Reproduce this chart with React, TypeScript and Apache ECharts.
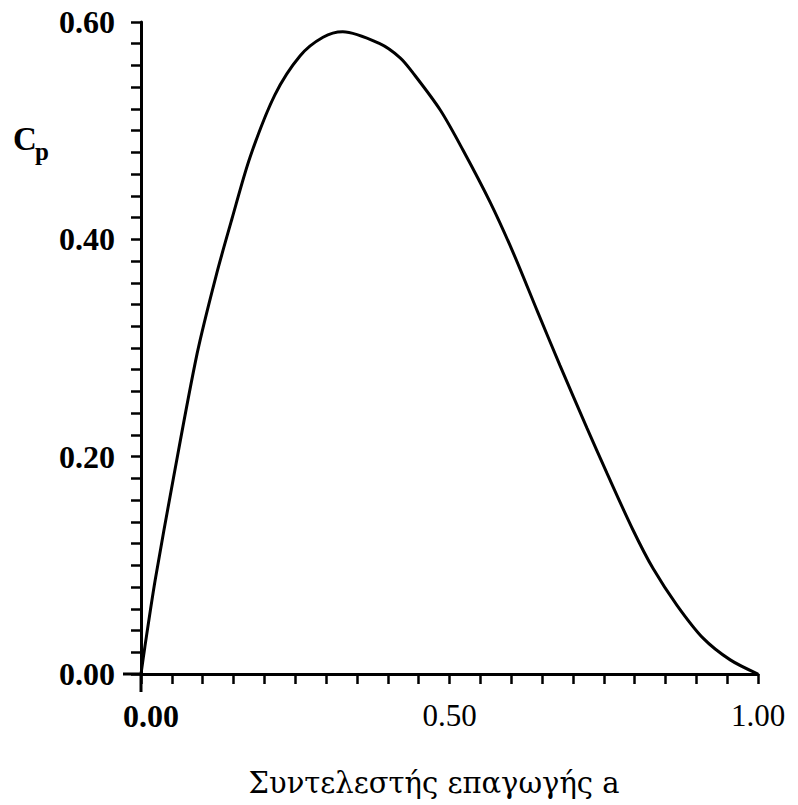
import React, { useEffect, useRef } from "react";
import * as echarts from "echarts";

// Induction factor a (x) and power coefficient Cp (y)
const aValues = [0, 0.006, 0.023, 0.052, 0.091, 0.1215, 0.147, 0.177, 0.217, 0.258, 0.295, 0.327, 0.387, 0.42, 0.441, 0.485, 0.522, 0.566, 0.603, 0.643, 0.679, 0.723, 0.755, 0.797, 0.83, 0.869, 0.911, 0.955, 1.0];
const cpValues = [0, 0.024, 0.0865, 0.1785, 0.295, 0.366, 0.418, 0.476, 0.533, 0.569, 0.586, 0.591, 0.58, 0.567, 0.553, 0.519, 0.482, 0.434, 0.388, 0.333, 0.284, 0.226, 0.185, 0.133, 0.097, 0.063, 0.033, 0.013, 0];

const xTickLabels = ["0.00", "0.50", "1.00"];
const yTickLabels = ["0.00", "0.20", "0.40", "0.60"];
const xTitle = "Συντελεστής επαγωγής a";
const yTitleMain = "C";
const yTitleSub = "p";

const FONT = "Liberation Serif";
const TITLE_FONT = "DejaVu Serif";

export default function App() {
  const ref = useRef<HTMLDivElement>(null);
  useEffect(() => {
    if (!ref.current) return;
    const chart = echarts.init(ref.current, null, { renderer: "svg" });
    const data = aValues.map((a, i) => [a, cpValues[i]]);
    chart.setOption({
      animation: false,
      backgroundColor: "#fff",
      grid: { left: 141, right: 40, top: 22, bottom: 131 },
      xAxis: {
        type: "value",
        min: 0,
        max: 1,
        interval: 0.5,
        axisLine: { show: true, lineStyle: { color: "#000", width: 3 } },
        axisTick: { show: true, length: 10, lineStyle: { color: "#000", width: 2.5 } },
        minorTick: { show: true, splitNumber: 10, length: 10, lineStyle: { color: "#000", width: 2.5 } },
        splitLine: { show: false },
        axisLabel: {
          margin: 26,
          color: "#000",
          fontFamily: FONT,
          fontSize: 31,
          formatter: (v: number) => {
            const idx = Math.round(v / 0.5);
            const t = xTickLabels[idx] ?? "";
            return idx === 0 ? "{b|" + t + "}" : "{n|" + t + "}";
          },
          rich: {
            b: { fontFamily: FONT, fontSize: 32, fontWeight: "bold", color: "#000", padding: [0, 0, 0, 20] },
            n: { fontFamily: FONT, fontSize: 31, fontWeight: "normal", color: "#000" },
          },
        },
      },
      yAxis: {
        type: "value",
        min: 0,
        max: 0.6,
        interval: 0.2,
        axisLine: { show: true, lineStyle: { color: "#000", width: 3 } },
        axisTick: { show: true, length: 10, lineStyle: { color: "#000", width: 2.5 } },
        minorTick: { show: true, splitNumber: 10, length: 10, lineStyle: { color: "#000", width: 2.5 } },
        splitLine: { show: false },
        axisLabel: {
          margin: 26,
          color: "#000",
          fontFamily: FONT,
          fontSize: 32,
          fontWeight: "bold",
          formatter: (v: number) => yTickLabels[Math.round(v / 0.2)] ?? "",
        },
      },
      series: [
        {
          type: "line",
          data,
          smooth: 0.3,
          showSymbol: false,
          lineStyle: { color: "#000", width: 3 },
        },
      ],
    });
    const p0 = chart.convertToPixel({ gridIndex: 0 }, [0, 0]) as number[];
    chart.setOption({
      graphic: [
        { type: "line", shape: { x1: p0[0], y1: p0[1], x2: p0[0], y2: p0[1] + 18 }, style: { stroke: "#000", lineWidth: 3 } },
        { type: "line", shape: { x1: p0[0], y1: p0[1], x2: p0[0] - 18, y2: p0[1] }, style: { stroke: "#000", lineWidth: 3 } },
        { type: "text", left: 13, top: 122, style: { text: yTitleMain, fontFamily: FONT, fontSize: 33, fontWeight: "bold", fill: "#000" } },
        { type: "text", left: 35, top: 139, style: { text: yTitleSub, fontFamily: FONT, fontSize: 25, fontWeight: "bold", fill: "#000" } },
        { type: "text", x: 434, y: 768, style: { text: xTitle, fontFamily: TITLE_FONT, fontSize: 29, fill: "#000", textAlign: "center" } },
      ],
    });
    return () => chart.dispose();
  }, []);
  return <div ref={ref} style={{ position: "fixed", left: 0, top: 0, width: 798, height: 805 }} />;
}
